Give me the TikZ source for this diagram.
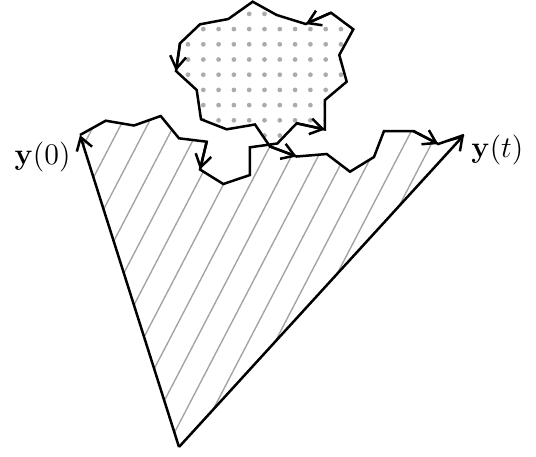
\documentclass[tikz,border=0pt]{standalone}
\usetikzlibrary{arrows.meta}
\begin{document}
\begin{tikzpicture}[x=0.4pt,y=-0.4pt,
  pathline/.style={line width=1pt, black},
  arr/.style={pathline, -{Straight Barb[length=5pt,width=6.4pt]}},
  hatchline/.style={line width=0.55pt, black!36},
  dotfill/.style={fill=black!33},
  lbl/.style={inner sep=0pt, font=\fontsize{12}{14}\selectfont}]
\useasboundingbox (0,0) rectangle (536,456);
% vectors
\coordinate (O) at (179,447);
\coordinate (Y0) at (80,135);
\coordinate (Yt) at (464,135);
% path vertices
\coordinate (p1) at (105.7,120.7);
\coordinate (p2) at (134,125.5);
\coordinate (p3) at (160.7,116);
\coordinate (p4) at (179,138.3);
\coordinate (p5) at (206.7,141.7);
\coordinate (p6) at (200,169.5);
\coordinate (p7) at (223.3,184);
\coordinate (p8) at (250,175);
\coordinate (p9) at (250,147.3);
\coordinate (p10) at (277.3,143.5);
\coordinate (p11) at (296.7,123.3);
\coordinate (p12) at (325,129.5);
\coordinate (p13) at (325,100);
\coordinate (p14) at (346.7,81.7);
\coordinate (p15) at (339.3,55);
\coordinate (p16) at (353.3,29.3);
\coordinate (p17) at (331,12.7);
\coordinate (p18) at (305.7,24);
\coordinate (p19) at (276.7,15);
\coordinate (p20) at (252.7,1.7);
\coordinate (p21) at (228.3,19);
\coordinate (p22) at (200,24.3);
\coordinate (p23) at (180,43.3);
\coordinate (p24) at (176,71);
\coordinate (p25) at (196.7,90);
\coordinate (p26) at (201,119.3);
\coordinate (p27) at (226.7,129.3);
\coordinate (p28) at (255,124.5);
\coordinate (p29) at (270,146.5);
\coordinate (p30) at (296.7,156.5);
\coordinate (p31) at (326.7,154);
\coordinate (p32) at (350,171.7);
\coordinate (p33) at (374,157);
\coordinate (p34) at (384,131);
\coordinate (p35) at (413.3,131);
\coordinate (p36) at (438.3,144);
\coordinate (X) at (269,144.8);
% hatched region
\begin{scope}
\clip (O) -- (Y0) -- (p1) -- (p2) -- (p3) -- (p4) -- (p5) -- (p6) -- (p7) -- (p8) -- (p9) -- (X) -- (p29) -- (p30) -- (p31) -- (p32) -- (p33) -- (p34) -- (p35) -- (p36) -- (Yt) -- cycle;
\foreach \i in {-12,...,16}
  \draw[hatchline] ({74.9+26.7*\i},470) -- ({324.5+26.7*\i},-10);
\end{scope}
% dotted loop
\begin{scope}
\clip (X) -- (p10) -- (p11) -- (p12) -- (p13) -- (p14) -- (p15) -- (p16) -- (p17) -- (p18) -- (p19) -- (p20) -- (p21) -- (p22) -- (p23) -- (p24) -- (p25) -- (p26) -- (p27) -- (p28) -- cycle;
\foreach \r in {0,...,8}
  \foreach \c in {-1,...,11}
    \fill[dotfill] ({188+15.3*\c},{13.9+15.2*\r}) circle (0.95pt);
\end{scope}
% path
\draw[pathline] (Y0) -- (p1) -- (p2) -- (p3) -- (p4) -- (p5) -- (p6) -- (p7) -- (p8) -- (p9) -- (p10) -- (p11) -- (p12) -- (p13) -- (p14) -- (p15) -- (p16) -- (p17) -- (p18) -- (p19) -- (p20) -- (p21) -- (p22) -- (p23) -- (p24) -- (p25) -- (p26) -- (p27) -- (p28) -- (p29) -- (p30) -- (p31) -- (p32) -- (p33) -- (p34) -- (p35) -- (p36) -- (Yt);
\draw[arr] (p5) -- (p6);
\draw[arr] (p11) -- (p12);
\draw[arr] (p17) -- (p18);
\draw[arr] (p23) -- (p24);
\draw[arr] (p29) -- (p30);
\draw[arr] (p35) -- (p36);
\draw[arr] (O) -- (Y0);
\draw[arr] (O) -- (Yt);
% labels
\node[lbl, anchor=base east] (l0) at (71,164) {$\mathbf{y}(0)$};
\node[lbl, anchor=base west] (lt) at (471,157) {$\mathbf{y}(t)$};
\end{tikzpicture}
\end{document}
